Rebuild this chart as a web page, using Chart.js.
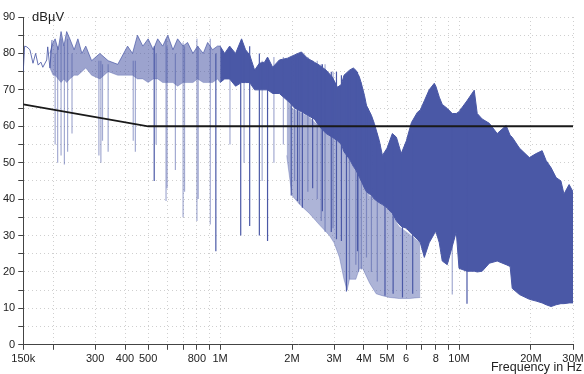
<!DOCTYPE html>
<html>
<head>
<meta charset="utf-8">
<script src="https://cdn.jsdelivr.net/npm/chart.js@4"></script>
<style>
  body { margin: 0; background: #fff; }
  #wrap { position: relative; width: 584px; height: 374px; }
  .lbl { position: absolute; font-family: "Liberation Sans", Arial, sans-serif; color: #222; white-space: nowrap; }
</style>
</head>
<body>
<div id="wrap">
  <canvas id="grafico" width="584" height="374"></canvas>
  <div class="lbl" style="left:32px; top:9px; font-size:13px;">dBµV</div>
  <div class="lbl" style="right:2px; top:360px; font-size:12.5px;">Frequency in Hz</div>
</div>
<script>
// frequencies in MHz, levels in dBµV
const limiteF = [0.15, 0.5, 30];
const limiteV = [66, 60, 60];

const tracoF = [0.150, 0.152, 0.1553, 0.16, 0.1648, 0.169, 0.1732, 0.1778, 0.1812, 0.1881, 0.1899, 0.194, 0.198];
const tracoV = [75, 82, 81.8, 81, 77.3, 80, 76.8, 77.6, 76.2, 78.2, 81.8, 76, 83.7];

const baixoF = [0.194, 0.200, 0.204, 0.210, 0.216, 0.222, 0.228, 0.235, 0.245, 0.254, 0.264, 0.274, 0.29, 0.314, 0.34, 0.373, 0.41, 0.43, 0.451, 0.475, 0.5, 0.525, 0.548, 0.575, 0.604, 0.635, 0.664, 0.7, 0.731, 0.77, 0.805, 0.85, 0.887, 0.93, 0.975, 1.0];
const baixoTopo = [80, 83, 84, 81, 86, 82, 86, 84, 81, 84, 80, 82, 78, 80, 78, 77, 82, 80, 85, 82, 84, 81, 84, 82, 85, 81, 84, 82, 83, 80, 82, 80, 83, 81, 82, 82];
const baixoBase = [76, 74, 74, 73, 72, 73, 72, 73, 74, 74, 75, 76, 74, 73, 75, 74, 74, 74, 73, 73, 72, 73, 73, 72, 72, 72, 71, 72, 72, 72, 73, 72, 72, 72, 73, 72];

const corpoF = [1.0, 1.045, 1.096, 1.161, 1.23, 1.278, 1.33, 1.395, 1.46, 1.535, 1.58, 1.66, 1.77, 1.917, 2.05, 2.19, 2.32, 2.48, 2.6, 2.78, 2.95, 3.1, 3.22, 3.3, 3.48, 3.61, 3.7, 3.83, 3.9, 4.02, 4.1, 4.3, 4.42, 4.64, 4.78, 5.0, 5.26, 5.47, 5.73, 6.02, 6.32, 6.69, 6.89, 7.16, 7.5, 7.88, 8.0, 8.27, 8.51, 8.93, 9.37, 9.74, 10.0, 10.8, 11.58, 11.92, 12.5, 13.4, 14.45, 15.75, 16.37, 16.7, 17.9, 19.7, 21.03, 22.28, 23.15, 24.3, 25.5, 26.7, 27.5, 28.9, 30];
const corpoTopo = [82, 80, 82, 80, 84, 81, 79.6, 75.4, 77.3, 77.6, 79, 76.2, 78.2, 78.7, 79.6, 80.4, 78.7, 77.6, 76.8, 75.4, 73.5, 70.7, 71.5, 74, 75.4, 76, 75.4, 73.5, 71.8, 68.5, 65.7, 63, 60.8, 56, 52, 54, 58, 57, 52.5, 56, 61, 63.8, 64.5, 67, 70, 71.8, 71, 68, 66, 64.9, 63.5, 63.5, 64, 67, 69.9, 63.5, 62, 60.8, 58, 60.2, 57.5, 57, 54, 51.4, 52.5, 53.3, 50.6, 48.6, 45.9, 45, 41.4, 44, 42];
const corpoBase = [72, 73, 73, 71, 72, 72, 72, 70, 70, 70, 70, 69, 69, 67, 65, 64, 63, 62, 60, 58, 57, 56, 55, 53, 51, 49, 48, 46, 45, 43, 42, 41, 40, 39, 38.5, 37.6, 36, 34, 32.5, 32, 30.5, 29, 28, 24, 28, 30.5, 31.2, 28, 23, 22, 27, 31, 21, 20.2, 20.2, 20, 20.2, 22.4, 23, 22, 21.5, 15.5, 13.8, 12.5, 12, 11.5, 11, 10.5, 11, 11.3, 11.3, 11.5, 11.5];

// comb of dips under the solid body, 2 MHz to 7 MHz
const pentesF = [1.9, 2.0, 2.15, 2.37, 2.6, 2.87, 3.0, 3.16, 3.3, 3.4, 3.48, 3.7, 3.83, 3.95, 4.22, 4.5, 4.77, 5.11, 5.63, 6.2, 6.89];
const pentesTopo = [67.5, 65, 64, 62.5, 60, 58, 57, 56, 53, 52, 51, 48, 46, 45, 41, 40, 38.5, 37, 32.5, 30.5, 28];
const pentesBase = [52, 41, 38.6, 36, 33, 30, 28, 24, 18, 15, 18, 18, 21, 21, 17, 14, 13.5, 13, 12.7, 12.7, 13];

const picoF = [0.204, 0.209, 0.216, 0.223, 0.230, 0.240, 0.311, 0.317, 0.322, 0.340, 0.433, 0.442, 0.54, 0.594, 0.60, 0.65, 0.70, 0.71, 0.80, 0.81, 0.91, 1.1, 1.26, 1.5, 1.68, 1.84, 2.05, 2.15, 2.33, 2.55, 2.65, 2.75, 2.97, 3.48, 3.7, 3.8, 3.9, 4.1, 4.3, 4.55, 9.37];
const picoTopo = [80, 82, 84, 82, 84, 80, 78, 78, 77, 77, 78, 78, 80, 84, 82, 80, 83, 82, 84, 82, 84, 82, 80, 78, 79, 79, 79, 79, 79, 78, 77, 77, 75, 75, 75, 74, 72, 66, 62, 58, 60];
const picoBase = [55, 50, 52, 49.5, 53, 58, 52, 50, 56, 53, 56, 53, 55, 39.5, 43, 48, 35, 42, 34, 40, 33, 55, 50, 45, 50, 55, 45, 38.6, 42, 40, 34, 31, 32, 18, 22, 20, 20.7, 24, 20, 17.4, 13.8];

const escuroF = [0.53, 0.96, 1.22, 1.33, 1.46, 1.58, 1.985, 2.11, 2.21, 2.44, 2.68, 2.92, 3.07, 3.22, 3.38, 3.76, 4.9, 5.3, 5.8, 6.4, 10.8];
const escuroTopo = [82, 80, 80, 82, 80, 78, 79, 79, 79, 78, 77, 75, 75, 74, 74, 75, 50, 55, 52, 58, 60];
const escuroBase = [45, 25.7, 30, 32.6, 30, 28.5, 41, 39.5, 37.6, 43, 36.7, 31, 29, 28.5, 14.6, 25.7, 13.5, 14, 13, 14, 11.3];

const ticksX = [0.15, 0.2, 0.3, 0.4, 0.5, 0.6, 0.7, 0.8, 0.9, 1, 2, 3, 4, 5, 6, 7, 8, 9, 10, 20, 30];
const rotulosX = ['150k', '', '300', '400', '500', '', '', '800', '', '1M', '2M', '3M', '4M', '5M', '6', '', '8', '', '10M', '20M', '30M'];

const azul = 'rgb(74, 88, 166)';

function pontos(fs, vs) {
    return fs.map((f, i) => ({ x: f, y: vs[i] }));
}

function linhasVerticais(fs, topo, base) {
    const dados = [];
    for (let i = 0; i < fs.length; i++) {
        dados.push({ x: fs[i], y: topo[i] });
        dados.push({ x: fs[i], y: base[i] });
        dados.push({ x: fs[i], y: null });
    }
    return dados;
}

const comum = { pointRadius: 0, tension: 0, spanGaps: false };

const datasets = [
    { ...comum, data: pontos(limiteF, limiteV), borderColor: '#1a1a1a', borderWidth: 1.8, fill: false, order: 0 },
    { ...comum, data: pontos(baixoF, baixoTopo), borderColor: 'rgba(74,88,166,0.7)', borderWidth: 1, fill: 2, backgroundColor: 'rgba(74,88,166,0.55)', order: 6 },
    { ...comum, data: pontos(baixoF, baixoBase), borderColor: 'rgba(74,88,166,0.3)', borderWidth: 1, fill: false, order: 6 },
    { ...comum, data: pontos(corpoF, corpoTopo), borderColor: azul, borderWidth: 1, fill: 4, backgroundColor: azul, order: 5 },
    { ...comum, data: pontos(corpoF, corpoBase), borderColor: azul, borderWidth: 1, fill: false, order: 5 },
    { ...comum, data: pontos(pentesF, pentesTopo), borderColor: 'rgba(74,88,166,0)', borderWidth: 0, fill: 6, backgroundColor: 'rgba(74,88,166,0.45)', order: 7 },
    { ...comum, data: pontos(pentesF, pentesBase), borderColor: 'rgba(74,88,166,0.35)', borderWidth: 1, fill: false, order: 7 },
    { ...comum, data: linhasVerticais(picoF, picoTopo, picoBase), borderColor: 'rgba(74,88,166,0.5)', borderWidth: 1.2, fill: false, order: 4 },
    { ...comum, data: linhasVerticais(escuroF, escuroTopo, escuroBase), borderColor: azul, borderWidth: 1.2, fill: false, order: 3 },
    { ...comum, data: pontos(tracoF, tracoV), borderColor: 'rgba(74,88,166,0.85)', borderWidth: 1, fill: false, order: 2 }
];

const fonteEixo = { family: "'Liberation Sans', Arial, sans-serif", size: 11 };

new Chart(document.getElementById('grafico'), {
    type: 'line',
    data: { datasets: datasets },
    options: {
        responsive: false,
        animation: false,
        layout: { padding: { top: 17, right: 11, bottom: 5, left: 0 } },
        plugins: { legend: { display: false }, tooltip: { enabled: false } },
        scales: {
            x: {
                type: 'logarithmic',
                min: 0.15,
                max: 30,
                afterBuildTicks: function(escala) {
                    escala.ticks = ticksX.map(v => ({ value: v }));
                },
                afterFit: function(escala) {
                    escala.paddingRight = 0;
                    escala.paddingLeft = 0;
                },
                ticks: {
                    color: '#222',
                    font: fonteEixo,
                    padding: 3,
                    maxRotation: 0,
                    autoSkip: false,
                    callback: function(valor) {
                        const i = ticksX.findIndex(t => Math.abs(t - valor) < 1e-9);
                        return i >= 0 ? rotulosX[i] : '';
                    }
                },
                grid: { color: '#cfcfcf', tickColor: '#444', tickLength: 5, lineWidth: 1 },
                border: { color: '#444', width: 1, dash: [1, 3] }
            },
            y: {
                min: 0,
                max: 90,
                ticks: {
                    stepSize: 5,
                    color: '#222',
                    font: fonteEixo,
                    padding: 3,
                    callback: function(valor) {
                        return valor % 10 === 0 ? valor : '';
                    }
                },
                grid: { color: '#cfcfcf', tickColor: '#444', tickLength: 5, lineWidth: 1 },
                border: { color: '#444', width: 1, dash: [1, 3] }
            }
        }
    }
});
</script>
</body>
</html>
